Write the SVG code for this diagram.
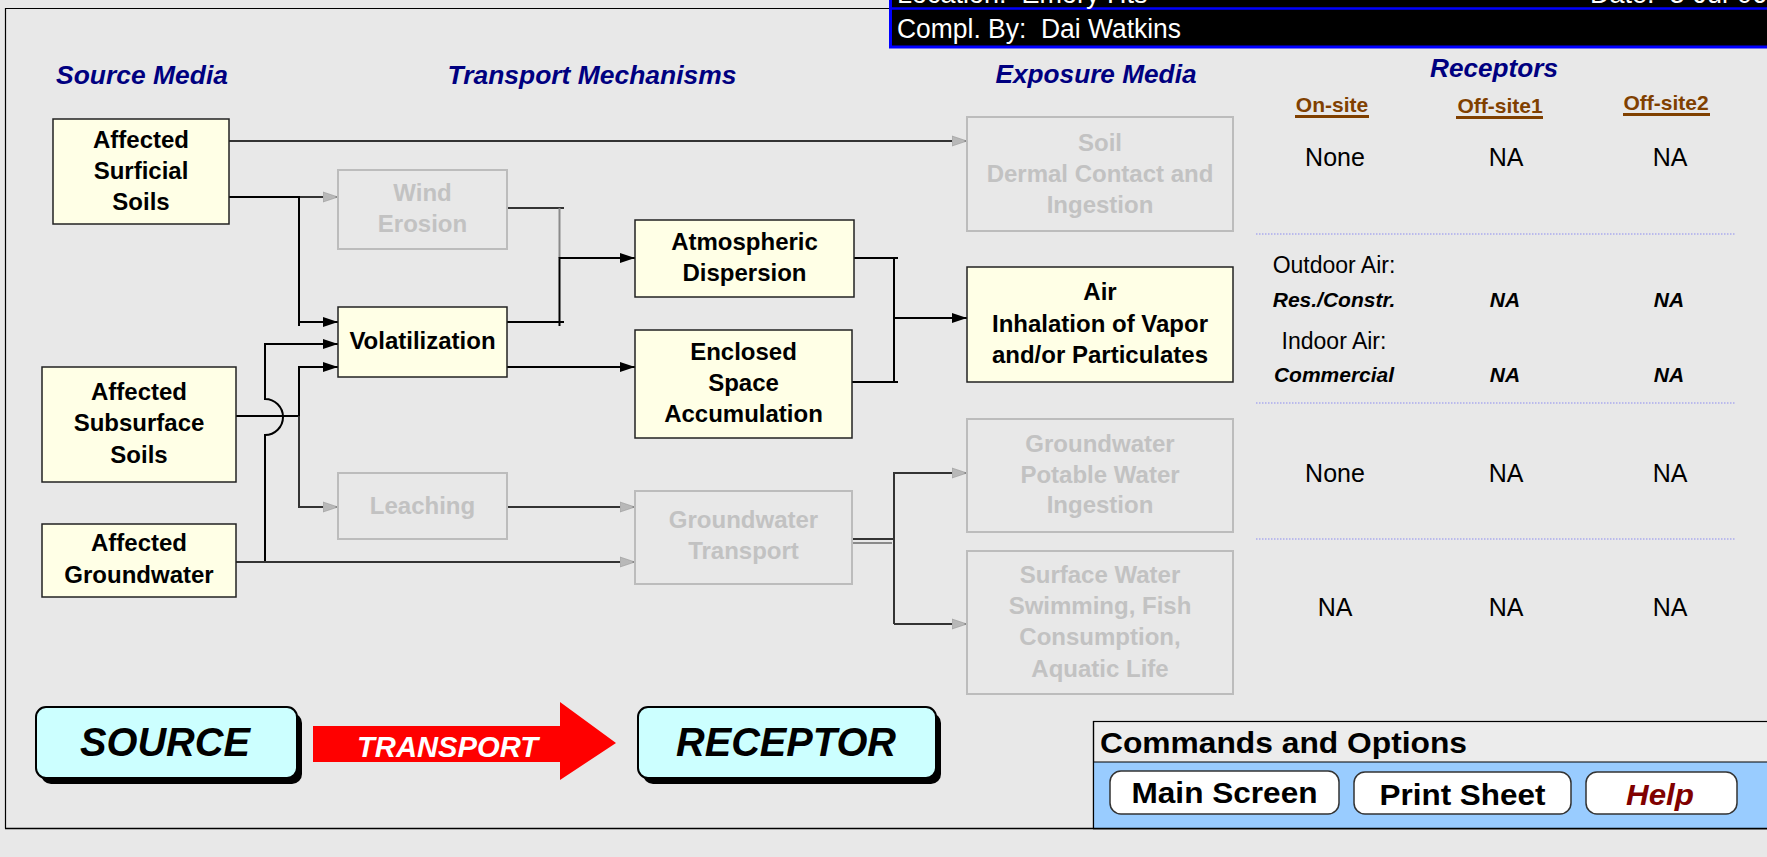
<svg xmlns="http://www.w3.org/2000/svg" width="1767" height="857" viewBox="0 0 1767 857">
<defs>
<style>
text{font-family:"Liberation Sans",Arial,sans-serif;white-space:pre}
.nt{font-size:24px;font-weight:bold;text-anchor:middle;fill:#000}
.gt{font-size:24px;font-weight:bold;text-anchor:middle;fill:#c2c2c2}
.act{fill:#ffffe6;stroke:#222;stroke-width:1.5}
.ina{fill:none;stroke:#bcbcbc;stroke-width:2}
.hd{font-size:25px;font-weight:bold;font-style:italic;fill:#000080;text-anchor:middle}
.rc{font-size:21px;font-weight:bold;fill:#804000;text-anchor:middle}
.rv{font-size:25px;fill:#000;text-anchor:middle}
.rl{font-size:23px;fill:#000;text-anchor:middle}
.rb{font-size:21px;font-weight:bold;font-style:italic;fill:#000;text-anchor:middle}
.c{fill:none;stroke:#000;stroke-width:2}
.cd{fill:none;stroke:#333;stroke-width:2}
.cg{fill:none;stroke:#8a8a8a;stroke-width:2}
.sep{stroke:#8c8cf0;stroke-width:1.2;stroke-dasharray:1.5,1.5}
.btn{fill:#fff;stroke:#333;stroke-width:1.5}
.bt{font-size:30px;font-weight:bold;text-anchor:middle;fill:#000}
.big{fill:#ccffff;stroke:#000;stroke-width:2}
.shadow{fill:#000}
.bigt{font-size:40px;font-weight:bold;font-style:italic;text-anchor:middle;fill:#000}
</style>
<marker id="ab" markerWidth="16" markerHeight="12" refX="15" refY="6" orient="auto" markerUnits="userSpaceOnUse">
<path d="M0,1 L15,6 L0,11 z" fill="#000"/>
</marker>
<marker id="ag" markerWidth="16" markerHeight="12" refX="15" refY="6" orient="auto" markerUnits="userSpaceOnUse">
<path d="M0,1 L15,6 L0,11 z" fill="#b8b8b8" stroke="#9a9a9a" stroke-width="0.6"/>
</marker>
</defs>

<rect x="0" y="0" width="1767" height="857" fill="#e8e8e8"/>

<g id="frame">
<path d="M5.5,828.5 V8.5 H889" fill="none" stroke="#000" stroke-width="1.2"/>
<path d="M5,828.5 H1767" fill="none" stroke="#000" stroke-width="1.5"/>
</g>

<g id="header">
<rect x="889" y="0" width="878" height="48" fill="#000"/>
<path d="M890.5,0 V48" stroke="#0000ff" stroke-width="3"/>
<path d="M889,8.5 H1767" stroke="#0000ff" stroke-width="2.5"/>
<path d="M889,47 H1767" stroke="#0000ff" stroke-width="3"/>
<text x="897" y="2.5" font-size="27" fill="#fff" xml:space="preserve">Location:  Emory Hts</text>
<text x="1590" y="2.5" font-size="27" fill="#fff" xml:space="preserve">Date:  3-Jul-06</text>
<text x="897" y="38" font-size="27" fill="#fff" textLength="284" lengthAdjust="spacingAndGlyphs" xml:space="preserve">Compl. By:  Dai Watkins</text>
</g>

<g id="headings">
<text class="hd" x="142" y="84" textLength="172" lengthAdjust="spacingAndGlyphs">Source Media</text>
<text class="hd" x="592" y="84" textLength="289" lengthAdjust="spacingAndGlyphs">Transport Mechanisms</text>
<text class="hd" x="1096" y="83" textLength="201" lengthAdjust="spacingAndGlyphs">Exposure Media</text>
<text class="hd" x="1494" y="77" textLength="128" lengthAdjust="spacingAndGlyphs">Receptors</text>
</g>

<g id="connectors">
<path class="cd" d="M229,141 H967" marker-end="url(#ag)"/>
<path class="cd" d="M229,197 H338" marker-end="url(#ag)"/>
<path class="c" d="M229,197 H299 V326"/>
<path class="c" d="M299,322 H338" marker-end="url(#ab)"/>
<path class="c" d="M236,416 H299 V367 H338" marker-end="url(#ab)"/>
<path class="cd" d="M299,416 V507 H338" marker-end="url(#ag)"/>
<path class="c" d="M265,562 V435 A18,18 0 0 0 265,399 V344 H338" marker-end="url(#ab)"/>
<path class="cd" d="M236,562 H635" marker-end="url(#ag)"/>
<path class="cd" d="M507,208 H564"/>
<path class="cg" d="M559.5,208 V258"/>
<path class="c" d="M507,322 H564"/>
<path class="c" d="M559.5,326 V258 H635" marker-end="url(#ab)"/>
<path class="c" d="M507,367 H635" marker-end="url(#ab)"/>
<path class="c" d="M854,258 H898"/>
<path class="c" d="M852,382 H898"/>
<path class="c" d="M894,258 V382"/>
<path class="c" d="M894,318 H967" marker-end="url(#ab)"/>
<path class="cd" d="M507,507 H635" marker-end="url(#ag)"/>
<path class="cd" d="M852,539 H894"/>
<path class="cg" d="M852,543 H892"/>
<path class="cd" d="M894,624 V473 H967" marker-end="url(#ag)"/>
<path class="cd" d="M894,624 H967" marker-end="url(#ag)"/>
</g>

<g id="n-surficial">
<rect class="act" x="53" y="119" width="176" height="105"/>
<text class="nt" x="141" y="148">Affected</text>
<text class="nt" x="141" y="179">Surficial</text>
<text class="nt" x="141" y="210">Soils</text>
</g>
<g id="n-subsurface">
<rect class="act" x="42" y="367" width="194" height="115"/>
<text class="nt" x="139" y="400">Affected</text>
<text class="nt" x="139" y="431">Subsurface</text>
<text class="nt" x="139" y="463">Soils</text>
</g>
<g id="n-groundwater">
<rect class="act" x="42" y="524" width="194" height="73"/>
<text class="nt" x="139" y="551">Affected</text>
<text class="nt" x="139" y="583">Groundwater</text>
</g>

<g id="n-wind">
<rect class="ina" x="338" y="170" width="169" height="79"/>
<text class="gt" x="422.5" y="201">Wind</text>
<text class="gt" x="422.5" y="232">Erosion</text>
</g>
<g id="n-volatilization">
<rect class="act" x="338" y="307" width="169" height="70"/>
<text class="nt" x="422.5" y="349">Volatilization</text>
</g>
<g id="n-leaching">
<rect class="ina" x="338" y="473" width="169" height="66"/>
<text class="gt" x="422.5" y="514">Leaching</text>
</g>
<g id="n-atmospheric">
<rect class="act" x="635" y="220" width="219" height="77"/>
<text class="nt" x="744.5" y="250">Atmospheric</text>
<text class="nt" x="744.5" y="281">Dispersion</text>
</g>
<g id="n-enclosed">
<rect class="act" x="635" y="330" width="217" height="108"/>
<text class="nt" x="743.5" y="360">Enclosed</text>
<text class="nt" x="743.5" y="391">Space</text>
<text class="nt" x="743.5" y="422">Accumulation</text>
</g>
<g id="n-gwtransport">
<rect class="ina" x="635" y="491" width="217" height="93"/>
<text class="gt" x="743.5" y="528">Groundwater</text>
<text class="gt" x="743.5" y="559">Transport</text>
</g>

<g id="n-soil">
<rect class="ina" x="967" y="117" width="266" height="114"/>
<text class="gt" x="1100" y="151">Soil</text>
<text class="gt" x="1100" y="182">Dermal Contact and</text>
<text class="gt" x="1100" y="213">Ingestion</text>
</g>
<g id="n-air">
<rect class="act" x="967" y="267" width="266" height="115"/>
<text class="nt" x="1100" y="300">Air</text>
<text class="nt" x="1100" y="332">Inhalation of Vapor</text>
<text class="nt" x="1100" y="363">and/or Particulates</text>
</g>
<g id="n-gwpotable">
<rect class="ina" x="967" y="419" width="266" height="113"/>
<text class="gt" x="1100" y="452">Groundwater</text>
<text class="gt" x="1100" y="483">Potable Water</text>
<text class="gt" x="1100" y="513">Ingestion</text>
</g>
<g id="n-surfacewater">
<rect class="ina" x="967" y="551" width="266" height="143"/>
<text class="gt" x="1100" y="583">Surface Water</text>
<text class="gt" x="1100" y="614">Swimming, Fish</text>
<text class="gt" x="1100" y="645">Consumption,</text>
<text class="gt" x="1100" y="677">Aquatic Life</text>
</g>

<g id="receptors">
<text class="rc" x="1332" y="112">On-site</text>
<rect x="1295" y="115" width="74" height="3" fill="#804000"/>
<text class="rc" x="1500" y="113">Off-site1</text>
<rect x="1456" y="116" width="87" height="3" fill="#804000"/>
<text class="rc" x="1666" y="110">Off-site2</text>
<rect x="1623" y="113" width="87" height="3" fill="#804000"/>

<text class="rv" x="1335" y="166">None</text>
<text class="rv" x="1506" y="166">NA</text>
<text class="rv" x="1670" y="166">NA</text>
<line class="sep" x1="1256" y1="234" x2="1736" y2="234"/>

<text class="rl" x="1334" y="273">Outdoor Air:</text>
<text class="rb" x="1334" y="307">Res./Constr.</text>
<text class="rb" x="1505" y="307">NA</text>
<text class="rb" x="1669" y="307">NA</text>
<text class="rl" x="1334" y="349">Indoor Air:</text>
<text class="rb" x="1334" y="382">Commercial</text>
<text class="rb" x="1505" y="382">NA</text>
<text class="rb" x="1669" y="382">NA</text>
<line class="sep" x1="1256" y1="403" x2="1736" y2="403"/>

<text class="rv" x="1335" y="482">None</text>
<text class="rv" x="1506" y="482">NA</text>
<text class="rv" x="1670" y="482">NA</text>
<line class="sep" x1="1256" y1="539" x2="1736" y2="539"/>

<text class="rv" x="1335" y="616">NA</text>
<text class="rv" x="1506" y="616">NA</text>
<text class="rv" x="1670" y="616">NA</text>
</g>

<g id="b-source">
<rect class="shadow" x="41" y="713" width="261" height="71" rx="10"/>
<rect class="big" x="36" y="707" width="261" height="71" rx="10"/>
<text class="bigt" x="165" y="756" textLength="170" lengthAdjust="spacingAndGlyphs">SOURCE</text>
</g>
<g id="b-transport">
<path d="M313,726 H560 V702 L616,743 L560,780 V762 H313 Z" fill="#ff0000"/>
<text x="447.5" y="757" font-size="30" font-weight="bold" font-style="italic" fill="#fff" text-anchor="middle" textLength="181" lengthAdjust="spacingAndGlyphs">TRANSPORT</text>
</g>
<g id="b-receptor">
<rect class="shadow" x="643" y="713" width="298" height="71" rx="10"/>
<rect class="big" x="638" y="707" width="298" height="71" rx="10"/>
<text class="bigt" x="786" y="756" textLength="220" lengthAdjust="spacingAndGlyphs">RECEPTOR</text>
</g>

<g id="commands">
<rect x="1093.5" y="721.5" width="680" height="107" fill="#ececec" stroke="#000" stroke-width="1.2"/>
<rect x="1094" y="762" width="680" height="66" fill="#99ccff"/>
<path d="M1093.5,762 H1767" stroke="#000" stroke-width="1.2"/>
<path d="M1093.5,721 V828" stroke="#000" stroke-width="1.2"/>
<path d="M1093,828.5 H1767" stroke="#000" stroke-width="1.5"/>
<text x="1100" y="753" font-size="30" font-weight="bold" fill="#000" textLength="367" lengthAdjust="spacingAndGlyphs">Commands and Options</text>
</g>
<g id="btn-main">
<rect class="btn" x="1110" y="771" width="229" height="43" rx="11"/>
<text class="bt" x="1224.5" y="803" textLength="186" lengthAdjust="spacingAndGlyphs">Main Screen</text>
</g>
<g id="btn-print">
<rect class="btn" x="1354" y="772" width="217" height="42" rx="11"/>
<text class="bt" x="1462.5" y="805" textLength="166" lengthAdjust="spacingAndGlyphs">Print Sheet</text>
</g>
<g id="btn-help">
<rect class="btn" x="1586" y="772" width="151" height="42" rx="11"/>
<text class="bt" x="1660" y="805" font-style="italic" textLength="68" lengthAdjust="spacingAndGlyphs" style="fill:#800000">Help</text>
</g>
</svg>
